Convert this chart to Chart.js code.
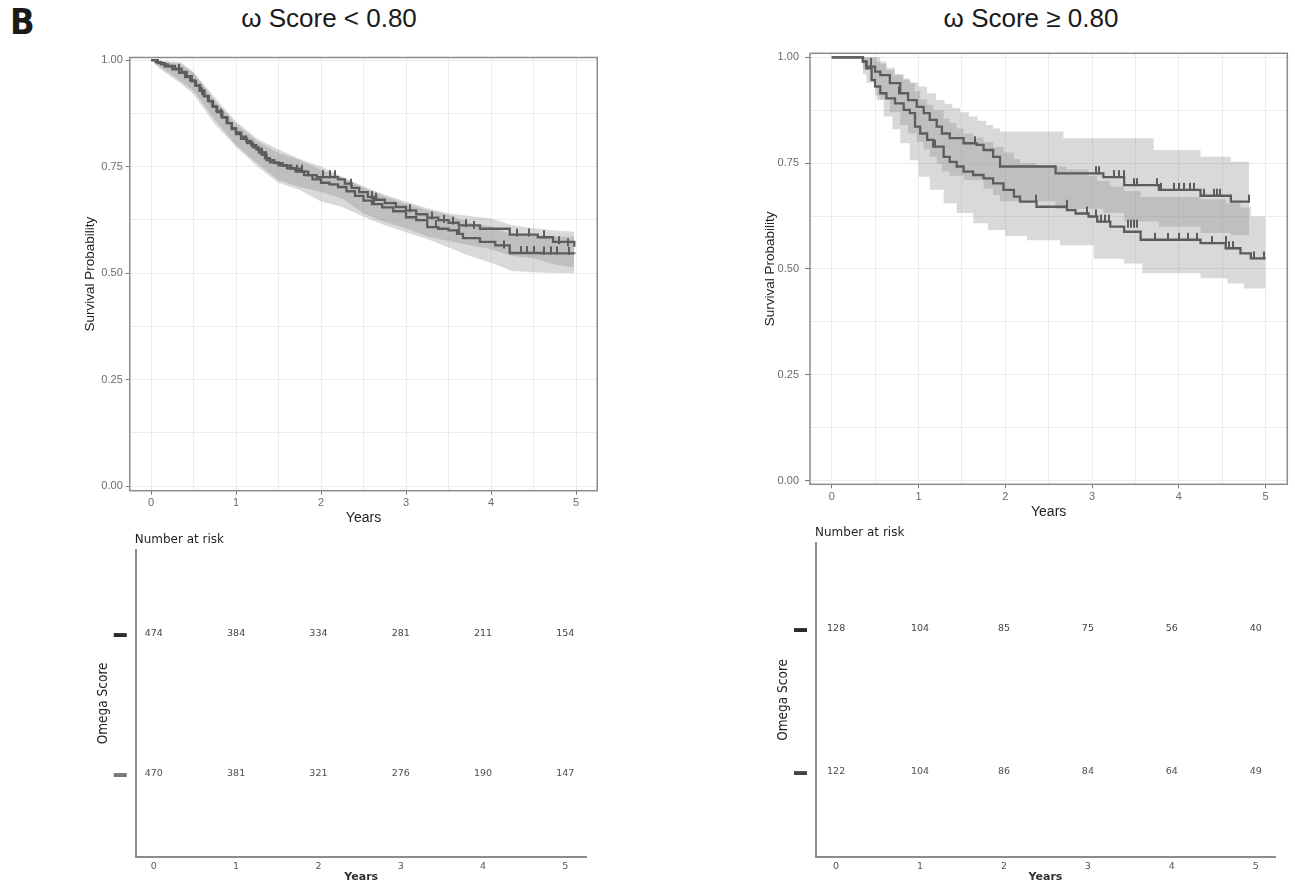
<!DOCTYPE html>
<html>
<head>
<meta charset="utf-8">
<script src="https://cdn.jsdelivr.net/npm/chart.js@4.4.1/dist/chart.umd.min.js"></script>
<style>
  body { margin: 0; background: #fff; width: 1295px; height: 888px; position: relative; overflow: hidden; font-family: "Liberation Sans", Arial, sans-serif; }
  canvas { position: absolute; }
  .lbl { position: absolute; white-space: nowrap; color: #1a1a1a; }
</style>
</head>
<body>
<div class="lbl" style="left:10px;top:4px;line-height:36px;font:bold 36px/36px 'Liberation Sans Narrow','DejaVu Sans Condensed',sans-serif;">B</div>
<div class="lbl" style="left:0;width:658px;top:3px;line-height:30px;text-align:center;font-size:26px;">ω Score &lt; 0.80</div>
<div class="lbl" style="left:700px;width:662px;top:3px;line-height:30px;text-align:center;font-size:26px;">ω Score ≥ 0.80</div>

<canvas id="kmLow" width="540" height="490" style="left:70px;top:40px"></canvas>
<canvas id="kmHigh" width="545" height="484" style="left:750px;top:40px"></canvas>
<canvas id="riskLow" width="530" height="363" style="left:80px;top:525px"></canvas>
<canvas id="riskHigh" width="530" height="368" style="left:760px;top:520px"></canvas>

<script>
// ---- omega score < 0.80 : survival steps [years, probability] ----
const lowCurveA = [[0,1],[0.06,0.995],[0.12,0.99],[0.2,0.986],[0.28,0.98],[0.36,0.972],[0.42,0.962],[0.48,0.95],[0.53,0.94],[0.58,0.928],[0.63,0.915],[0.68,0.903],[0.73,0.89],[0.78,0.878],[0.84,0.865],[0.9,0.852],[0.95,0.84],[1.0,0.83],[1.06,0.82],[1.12,0.81],[1.18,0.8],[1.24,0.79],[1.3,0.778],[1.36,0.765],[1.45,0.758],[1.55,0.752],[1.65,0.745],[1.75,0.738],[1.85,0.73],[1.95,0.725],[2.2,0.72],[2.28,0.71],[2.36,0.7],[2.45,0.69],[2.55,0.679],[2.65,0.672],[2.75,0.664],[2.88,0.655],[3.0,0.647],[3.12,0.638],[3.25,0.63],[3.38,0.624],[3.5,0.618],[3.62,0.612],[3.87,0.604],[4.22,0.59],[4.55,0.584],[4.73,0.573],[4.98,0.562]];
const lowCurveB = [[0,1],[0.08,0.993],[0.16,0.985],[0.25,0.978],[0.33,0.97],[0.4,0.96],[0.46,0.952],[0.52,0.94],[0.57,0.928],[0.62,0.916],[0.67,0.904],[0.72,0.892],[0.77,0.88],[0.83,0.866],[0.89,0.852],[0.95,0.838],[1.0,0.826],[1.06,0.815],[1.13,0.805],[1.2,0.795],[1.27,0.783],[1.34,0.77],[1.4,0.76],[1.5,0.753],[1.6,0.746],[1.7,0.739],[1.8,0.73],[1.9,0.72],[2.0,0.712],[2.1,0.708],[2.2,0.702],[2.3,0.692],[2.4,0.681],[2.5,0.67],[2.6,0.662],[2.72,0.654],[2.85,0.645],[3.0,0.631],[3.12,0.624],[3.25,0.608],[3.38,0.604],[3.5,0.6],[3.6,0.592],[3.67,0.582],[3.87,0.573],[4.05,0.565],[4.22,0.547],[4.6,0.546],[4.98,0.545]];
const lowUpperA = [[0,1],[0.35,0.995],[0.5,0.972],[0.75,0.912],[1.0,0.856],[1.25,0.815],[1.5,0.79],[1.75,0.768],[2.0,0.75],[2.25,0.726],[2.5,0.703],[2.75,0.684],[3.0,0.668],[3.25,0.652],[3.5,0.64],[3.75,0.634],[4.0,0.628],[4.25,0.612],[4.5,0.605],[4.75,0.6],[4.98,0.597]];
const lowLowerA = [[0,1],[0.1,0.985],[0.35,0.95],[0.5,0.928],[0.75,0.86],[1.0,0.8],[1.25,0.758],[1.5,0.718],[1.75,0.702],[2.0,0.69],[2.25,0.675],[2.5,0.64],[2.75,0.62],[3.0,0.605],[3.25,0.586],[3.5,0.575],[3.75,0.565],[4.0,0.556],[4.25,0.54],[4.5,0.535],[4.75,0.52],[4.98,0.513]];
const lowUpperB = [[0,1],[0.35,0.99],[0.5,0.97],[0.75,0.905],[1.0,0.85],[1.25,0.81],[1.5,0.782],[1.75,0.765],[2.0,0.742],[2.25,0.724],[2.5,0.7],[2.75,0.68],[3.0,0.662],[3.25,0.648],[3.5,0.636],[3.75,0.618],[4.0,0.61],[4.25,0.59],[4.5,0.588],[4.75,0.586],[4.98,0.585]];
const lowLowerB = [[0,1],[0.1,0.98],[0.35,0.945],[0.5,0.92],[0.75,0.85],[1.0,0.797],[1.25,0.75],[1.5,0.712],[1.75,0.695],[2.0,0.668],[2.25,0.655],[2.5,0.632],[2.75,0.612],[3.0,0.596],[3.25,0.58],[3.5,0.56],[3.75,0.54],[4.0,0.524],[4.25,0.505],[4.5,0.502],[4.75,0.5],[4.98,0.5]];
const lowCensorA = [[0.33,0.975],[0.58,0.928],[0.82,0.87],[1.3,0.778],[1.72,0.738],[1.78,0.738],[2.02,0.725],[2.1,0.725],[2.16,0.725],[2.35,0.705],[2.6,0.676],[2.65,0.672],[3.05,0.645],[3.3,0.628],[3.45,0.62],[3.55,0.616],[3.7,0.61],[3.8,0.606],[4.3,0.588],[4.45,0.588],[4.62,0.584],[4.8,0.57],[4.9,0.565]];
const lowCensorB = [[0.6,0.92],[1.35,0.77],[2.62,0.662],[3.35,0.608],[3.62,0.592],[4.15,0.56],[4.35,0.547],[4.42,0.547],[4.5,0.547],[4.62,0.546],[4.7,0.546],[4.78,0.546],[4.92,0.545]];

// ---- omega score >= 0.80 ----
const highCurveA = [[0,1],[0.33,1],[0.36,0.99],[0.4,0.978],[0.5,0.966],[0.56,0.958],[0.67,0.939],[0.79,0.915],[0.88,0.899],[0.98,0.883],[1.06,0.868],[1.13,0.852],[1.21,0.836],[1.27,0.82],[1.36,0.809],[1.52,0.797],[1.67,0.793],[1.75,0.781],[1.86,0.765],[1.94,0.742],[2.58,0.726],[3.13,0.717],[3.37,0.698],[3.77,0.687],[4.25,0.673],[4.6,0.659],[4.81,0.659]];
const highCurveB = [[0,1],[0.33,1],[0.36,0.99],[0.4,0.974],[0.46,0.946],[0.5,0.931],[0.56,0.915],[0.63,0.903],[0.73,0.891],[0.83,0.876],[0.9,0.868],[0.96,0.836],[1.02,0.82],[1.1,0.805],[1.17,0.789],[1.29,0.765],[1.36,0.753],[1.44,0.742],[1.52,0.73],[1.63,0.722],[1.75,0.714],[1.86,0.702],[1.98,0.687],[2.1,0.671],[2.17,0.659],[2.36,0.647],[2.71,0.639],[2.81,0.631],[2.96,0.624],[3.06,0.612],[3.21,0.6],[3.37,0.588],[3.56,0.569],[4.25,0.561],[4.54,0.549],[4.71,0.537],[4.83,0.525],[5.0,0.525]];
const highUpperA = [[0,1],[0.45,1],[0.52,0.99],[0.63,0.97],[0.72,0.958],[0.82,0.947],[0.91,0.94],[1.0,0.931],[1.1,0.915],[1.2,0.899],[1.3,0.89],[1.39,0.88],[1.48,0.87],[1.58,0.86],[1.68,0.85],[1.78,0.84],[1.86,0.832],[1.94,0.825],[2.67,0.809],[3.71,0.781],[4.25,0.765],[4.6,0.753],[4.81,0.753]];
const highLowerA = [[0,1],[0.33,1],[0.36,0.96],[0.4,0.94],[0.5,0.91],[0.56,0.9],[0.67,0.87],[0.79,0.84],[0.88,0.82],[0.98,0.8],[1.06,0.783],[1.13,0.765],[1.21,0.748],[1.27,0.73],[1.36,0.72],[1.52,0.71],[1.75,0.69],[1.86,0.675],[1.94,0.66],[2.58,0.642],[3.13,0.632],[3.37,0.612],[3.77,0.6],[4.25,0.585],[4.6,0.58],[4.81,0.58]];
const highUpperB = [[0,1],[0.46,1],[0.56,0.985],[0.63,0.975],[0.73,0.96],[0.83,0.95],[0.9,0.94],[0.96,0.92],[1.02,0.9],[1.1,0.888],[1.17,0.875],[1.29,0.855],[1.36,0.845],[1.44,0.832],[1.52,0.82],[1.63,0.81],[1.75,0.8],[1.86,0.788],[1.98,0.775],[2.1,0.76],[2.17,0.75],[2.36,0.742],[2.71,0.735],[2.96,0.72],[3.06,0.708],[3.21,0.695],[3.37,0.684],[3.56,0.67],[4.25,0.665],[4.54,0.655],[4.71,0.645],[4.83,0.624],[5.0,0.624]];
const highLowerB = [[0,1],[0.33,1],[0.36,0.97],[0.44,0.946],[0.52,0.899],[0.6,0.86],[0.7,0.83],[0.79,0.797],[0.9,0.757],[1.0,0.718],[1.13,0.687],[1.29,0.655],[1.44,0.632],[1.63,0.608],[1.8,0.592],[2.0,0.578],[2.25,0.568],[2.63,0.556],[3.02,0.524],[3.37,0.513],[3.58,0.49],[4.25,0.478],[4.56,0.466],[4.75,0.454],[5.0,0.443]];
const highCensorA = [[0.45,0.982],[0.78,0.915],[1.27,0.82],[1.65,0.797],[3.04,0.726],[3.08,0.726],[3.25,0.717],[3.31,0.717],[3.37,0.717],[3.48,0.698],[3.52,0.698],[3.75,0.698],[3.79,0.687],[3.94,0.687],[4.0,0.687],[4.06,0.687],[4.13,0.687],[4.17,0.687],[4.29,0.673],[4.4,0.673],[4.44,0.673],[4.48,0.673],[4.81,0.659]];
const highCensorB = [[1.19,0.789],[2.35,0.659],[2.71,0.647],[2.94,0.631],[3.05,0.624],[3.1,0.612],[3.15,0.612],[3.2,0.612],[3.42,0.6],[3.45,0.6],[3.48,0.6],[3.52,0.6],[3.73,0.569],[3.87,0.569],[4.0,0.569],[4.1,0.569],[4.21,0.569],[4.38,0.561],[4.54,0.561],[4.58,0.549],[4.63,0.549],[4.87,0.525],[4.98,0.525]];

// ---- number at risk ----
const riskYears = [0, 1, 2, 3, 4, 5];
const lowRiskTop = [474, 384, 334, 281, 211, 154];
const lowRiskBottom = [470, 381, 321, 276, 190, 147];
const highRiskTop = [128, 104, 85, 75, 56, 40];
const highRiskBottom = [122, 104, 86, 84, 64, 49];

// ---- axis grid positions (major + minor) ----
const gridYears = [0, 0.5, 1, 1.5, 2, 2.5, 3, 3.5, 4, 4.5, 5];
const gridProbs = [0, 0.125, 0.25, 0.375, 0.5, 0.625, 0.75, 0.875, 1];

const FONT = '"Liberation Sans", Arial, sans-serif';
const WIDE = '"DejaVu Sans", Verdana, sans-serif';
const NARROW = '"Liberation Sans Narrow", "DejaVu Sans Condensed", Arial, sans-serif';
const LINE = '#5c5c5c';
const BAND = 'rgba(140,140,140,0.33)';

const toXY = arr => arr.map(p => ({ x: p[0], y: p[1] }));
const isMajorProb = v => Number.isInteger(Math.round(v * 1000) / 250);

// censor mark: a short vertical tick that rises above the curve
function censorMark() {
    const c = document.createElement('canvas');
    c.width = 2;
    c.height = 16;
    const g = c.getContext('2d');
    g.fillStyle = LINE;
    g.fillRect(0, 1, 2, 8);
    return c;
}
const CENSOR = censorMark();

// ggplot-style panel border drawn over the data
const panelBorder = {
    id: 'panelBorder',
    afterDatasetsDraw(chart) {
        const a = chart.chartArea, ctx = chart.ctx;
        ctx.save();
        ctx.strokeStyle = '#8c8c8c';
        ctx.lineWidth = 1.5;
        ctx.strokeRect(a.left, a.top, a.right - a.left, a.bottom - a.top);
        ctx.restore();
    }
};

function bandSets(upper, lower, stepped) {
    return [
        { data: toXY(upper), stepped: stepped, borderWidth: 0, pointRadius: 0, fill: false, order: 3 },
        { data: toXY(lower), stepped: stepped, borderWidth: 0, pointRadius: 0, fill: '-1', backgroundColor: BAND, order: 3 }
    ];
}

function kmChart(id, cfg) {
    const datasets = [
        ...bandSets(cfg.upperA, cfg.lowerA, cfg.bandStepped),
        ...bandSets(cfg.upperB, cfg.lowerB, cfg.bandStepped),
        { data: toXY(cfg.curveA), stepped: true, borderColor: LINE, borderWidth: 2.3, pointRadius: 0, fill: false, order: 1 },
        { data: toXY(cfg.curveB), stepped: true, borderColor: LINE, borderWidth: 2.3, pointRadius: 0, fill: false, order: 1 },
        { data: toXY(cfg.censorA), showLine: false, pointStyle: CENSOR, pointRadius: 4, order: 0 },
        { data: toXY(cfg.censorB), showLine: false, pointStyle: CENSOR, pointRadius: 4, order: 0 }
    ];
    return new Chart(document.getElementById(id), {
        type: 'line',
        data: { datasets: datasets },
        plugins: [panelBorder],
        options: {
            responsive: false,
            animation: false,
            events: [],
            layout: { padding: { left: 0, top: cfg.padTop, right: cfg.padRight, bottom: 0 } },
            plugins: { legend: { display: false }, tooltip: { enabled: false } },
            scales: {
                x: {
                    type: 'linear',
                    min: -0.25,
                    max: 5.25,
                    afterBuildTicks: s => { s.ticks = gridYears.map(v => ({ value: v })); },
                    afterFit: s => { s.height = cfg.xHeight; },
                    border: { display: false },
                    grid: {
                        color: '#ececec',
                        tickLength: 4,
                        tickColor: c => (c.tick && Number.isInteger(c.tick.value)) ? '#777' : 'rgba(0,0,0,0)'
                    },
                    ticks: {
                        autoSkip: false,
                        maxRotation: 0,
                        padding: 2,
                        color: '#6b6b6b',
                        font: { family: FONT, size: 11 },
                        callback: v => Number.isInteger(v) ? String(v) : ''
                    },
                    title: { display: true, text: 'Years', color: '#222', font: { family: FONT, size: 14 }, padding: { top: 0, bottom: 3 } }
                },
                y: {
                    min: cfg.yMin,
                    max: cfg.yMax,
                    afterBuildTicks: s => { s.ticks = gridProbs.map(v => ({ value: v })); },
                    afterFit: s => { s.width = cfg.yWidth; },
                    border: { display: false },
                    grid: {
                        color: '#ececec',
                        tickLength: cfg.tickLen,
                        tickColor: c => (c.tick && isMajorProb(c.tick.value)) ? '#777' : 'rgba(0,0,0,0)'
                    },
                    ticks: {
                        autoSkip: false,
                        padding: cfg.tickPad,
                        color: '#6b6b6b',
                        font: { family: FONT, size: 11 },
                        callback: v => isMajorProb(v) ? v.toFixed(2) : ''
                    },
                    title: { display: true, text: 'Survival Probability', color: '#222', font: { family: FONT, size: 13.5 }, padding: { top: 12.5, bottom: 0 } }
                }
            }
        }
    });
}

kmChart('kmLow', {
    curveA: lowCurveA, curveB: lowCurveB,
    upperA: lowUpperA, lowerA: lowLowerA, upperB: lowUpperB, lowerB: lowLowerB,
    censorA: lowCensorA, censorB: lowCensorB, bandStepped: false,
    padTop: 17.5, padRight: 12.75, xHeight: 39.3, yWidth: 59.75,
    yMin: -0.011, yMax: 1.006, tickLen: 4, tickPad: 3
});

kmChart('kmHigh', {
    curveA: highCurveA, curveB: highCurveB,
    upperA: highUpperA, lowerA: highLowerA, upperB: highUpperB, lowerB: highLowerB,
    censorA: highCensorA, censorB: highCensorB, bandStepped: true,
    padTop: 13.3, padRight: 7.7, xHeight: 39.7, yWidth: 60,
    yMin: -0.0085, yMax: 1.0094, tickLen: 5, tickPad: 6
});

// risk table numbers and caption
const riskLabels = {
    id: 'riskLabels',
    afterDatasetsDraw(chart) {
        const ctx = chart.ctx, a = chart.chartArea;
        ctx.save();
        ctx.textAlign = 'center';
        ctx.textBaseline = 'middle';
        ctx.font = '9.5px ' + WIDE;
        chart.data.datasets.forEach((ds, i) => {
            ctx.fillStyle = ds.textColor;
            chart.getDatasetMeta(i).data.forEach((pt, j) => {
                ctx.fillText(String(ds.data[j].n), pt.x, pt.y);
            });
        });
        ctx.textAlign = 'left';
        ctx.fillStyle = '#1f1f1f';
        ctx.font = '12px ' + WIDE;
        ctx.fillText('Number at risk', a.left - 1, a.top - 10);
        ctx.restore();
    }
};

function riskChart(id, cfg) {
    const row = (counts, level, color) => ({
        data: riskYears.map((yr, i) => ({ x: yr, y: level, n: counts[i] })),
        pointRadius: 0,
        textColor: color
    });
    return new Chart(document.getElementById(id), {
        type: 'scatter',
        data: { datasets: [row(cfg.top, 2, '#444'), row(cfg.bottom, 1, '#4e4e4e')] },
        plugins: [riskLabels],
        options: {
            responsive: false,
            animation: false,
            events: [],
            layout: { padding: { left: 0, top: cfg.padTop, right: cfg.padRight, bottom: 0 } },
            plugins: { legend: { display: false }, tooltip: { enabled: false } },
            scales: {
                x: {
                    type: 'linear',
                    min: cfg.xMin,
                    max: cfg.xMax,
                    afterBuildTicks: s => { s.ticks = riskYears.map(v => ({ value: v })); },
                    afterFit: s => { s.height = cfg.xHeight; },
                    border: { display: true, color: '#8c8c8c', width: 2 },
                    grid: { display: false, drawTicks: false },
                    ticks: {
                        autoSkip: false,
                        padding: 4,
                        color: '#555',
                        font: { family: WIDE, size: 9.5 },
                        callback: v => String(v)
                    },
                    title: { display: true, text: 'Years', color: '#333', font: { family: WIDE, size: 11, weight: 'bold' }, padding: { top: 0, bottom: 4 } }
                },
                y: {
                    min: 0.4,
                    max: 2.6,
                    afterBuildTicks: s => { s.ticks = [{ value: 1 }, { value: 2 }]; },
                    afterFit: s => { s.width = cfg.yWidth; },
                    border: { display: true, color: '#8c8c8c', width: 2 },
                    grid: { display: false, drawTicks: false },
                    ticks: {
                        autoSkip: false,
                        padding: 9,
                        color: c => c.tick && c.tick.value === 2 ? '#2a2a2a' : cfg.dash2,
                        font: { family: FONT, size: 13, weight: 'bold' },
                        callback: () => '▬'
                    },
                    title: { display: true, text: 'Omega Score', color: '#222', font: { family: NARROW, size: 13.5 }, padding: { top: 15, bottom: 0 } }
                }
            }
        }
    });
}

riskChart('riskLow', {
    top: lowRiskTop, bottom: lowRiskBottom,
    padTop: 25, padRight: 23.3, xHeight: 31.3, yWidth: 55.7,
    xMin: -0.22, xMax: 5.26, dash2: '#777'
});

riskChart('riskHigh', {
    top: highRiskTop, bottom: highRiskBottom,
    padTop: 23, padRight: 15, xHeight: 31.3, yWidth: 56,
    xMin: -0.24, xMax: 5.23, dash2: '#444'
});
</script>
</body>
</html>
